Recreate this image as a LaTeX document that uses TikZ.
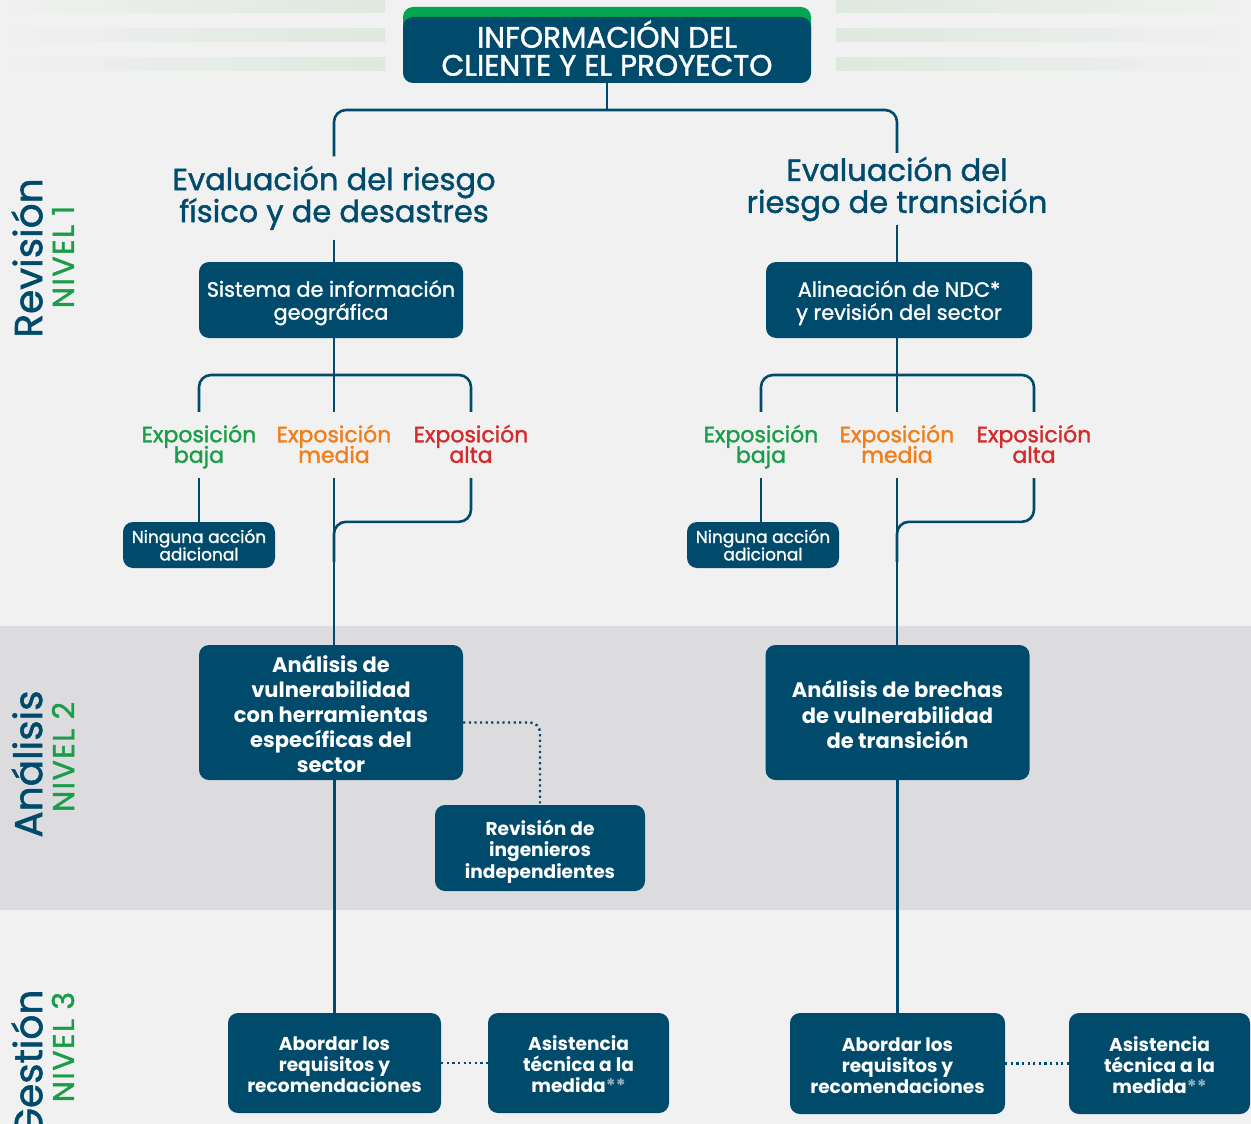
\documentclass[tikz,border=0pt]{standalone}
\usepackage{fontspec}
\setmainfont{Poppins}
\newfontfamily\med[FakeBold=1.4]{Poppins}
\newfontfamily\medw[FakeBold=1.4, LetterSpace=5]{Poppins}
\usetikzlibrary{calc}
\definecolor{dblue}{HTML}{004A6B}
\definecolor{bgc}{HTML}{F0F1F0}
\definecolor{band}{HTML}{DCDCDE}
\definecolor{deco}{HTML}{DFE8DF}
\definecolor{tgreen}{HTML}{1B9C48}
\definecolor{torange}{HTML}{F07E1A}
\definecolor{tred}{HTML}{D42A2C}
\definecolor{topgreen}{HTML}{00A650}
\definecolor{stargray}{HTML}{9AAFBE}
\newcommand{\fs}[2]{\fontsize{#1}{#2}\selectfont\lineskiplimit=-30pt }
\newcommand{\tp}{\rule{0pt}{22pt}}
\newcommand{\bt}{\rule[-7pt]{0pt}{7pt}}
\begin{document}
\begin{tikzpicture}[x=1pt,y=-1pt,
  box/.style={fill=dblue, rounded corners=10pt, text=white, align=center, inner sep=0pt},
  conn/.style={draw=dblue, line width=2.6pt},
  dots/.style={draw=dblue, line width=2.4pt, dash pattern=on 2.2pt off 3.4pt},
  expo/.style={align=center, inner sep=0pt, minimum height=66pt, font=\med\fs{22}{20.5}},
  ttl/.style={align=center, inner sep=0pt, text=dblue, font=\med\fs{30.5}{32}},
  side/.style={rotate=90, text=dblue, font=\med\fs{39}{40}},
  niv/.style={rotate=90, text=tgreen, font=\medw\fs{30}{30}}
]
\useasboundingbox (0,0) rectangle (1251,1124);
\clip (0,0) rectangle (1251,1124);
% backgrounds
\fill[bgc] (0,0) rectangle (1251,1124);
\fill[band] (0,626) rectangle (1251,910);
\foreach \y in {0,29,58}{
  \shade[left color=bgc, right color=deco] (0,\y) rectangle (385,\y+13);
  \shade[left color=deco, right color=bgc] (836,\y) rectangle (1251,\y+13);
}
% side labels
\node[side] (rev) at (27,258) {Revisión};
\node[niv] (niv1) at (63,257) {NIVEL 1};
\node[side] (ana) at (27,764) {Análisis};
\node[niv] (niv2) at (63,757) {NIVEL 2};
\node[side] (ges) at (27,1064) {Gestión};
\node[niv] (niv3) at (63,1047) {NIVEL 3};
% top box
\fill[topgreen, rounded corners=10pt] (403,7) rectangle (811,48);
\node[box, minimum width=408pt, minimum height=66pt, font=\med\fs{29.5}{28}] (top) at (607,50) {INFORMACIÓN DEL\\CLIENTE Y EL PROYECTO\rule[-4pt]{0pt}{4pt}};
% titles
\node[ttl, minimum height=83pt] (tL) at (334,198) {Evaluación del riesgo\\físico y de desastres};
\node[ttl, minimum height=72pt] (tR) at (897,189) {Evaluación del\\riesgo de transición};
% first boxes
\node[box, minimum width=264pt, minimum height=76pt, font=\med\fs{20.8}{23}] (sig) at (331,300) {\rule{0pt}{22pt}Sistema de información\\geográfica};
\node[box, minimum width=266pt, minimum height=76pt, font=\med\fs{20.8}{23}] (ndc) at (899,300) {\rule{0pt}{22pt}Alineación de NDC*\\y revisión del sector};
% exposure labels
\node[expo, text=tgreen] (eL1) at (199,445) {\tp Exposición\\\bt baja};
\node[expo, text=torange] (eL2) at (334,445) {\tp Exposición\\\bt media};
\node[expo, text=tred] (eL3) at (471,445) {\tp Exposición\\\bt alta};
\node[expo, text=tgreen] (eR1) at (761,445) {\tp Exposición\\\bt baja};
\node[expo, text=torange] (eR2) at (897,445) {\tp Exposición\\\bt media};
\node[expo, text=tred] (eR3) at (1034,445) {\tp Exposición\\\bt alta};
% ninguna
\node[box, minimum width=152pt, minimum height=46pt, font=\med\fs{17}{17.5}] (nL) at (199,545) {Ninguna acción\\adicional};
\node[box, minimum width=152pt, minimum height=46pt, font=\med\fs{17}{17.5}] (nR) at (763,545) {Ninguna acción\\adicional};
% level 2
\node[box, minimum width=264pt, minimum height=135pt, font=\bfseries\fs{21}{25}] (aL) at (331,712.5) {\rule{0pt}{20pt}Análisis de\\vulnerabilidad\\con herramientas\\específicas del\\sector};
\node[box, minimum width=264pt, minimum height=135pt, font=\bfseries\fs{21}{25.5}] (aR) at (897.5,712.5) {\rule{0pt}{22pt}Análisis de brechas\\de vulnerabilidad\\de transición};
\node[box, minimum width=210pt, minimum height=86pt, font=\bfseries\fs{18.6}{21.5}] (rv) at (540,848) {\rule{0pt}{22pt}Revisión de\\ingenieros\\independientes};
% level 3
\node[box, minimum width=213pt, minimum height=100pt, font=\bfseries\fs{18.6}{21}] (bL) at (334.5,1063) {\rule{0pt}{18pt}Abordar los\\requisitos y\\recomendaciones};
\node[box, minimum width=181pt, minimum height=100pt, font=\bfseries\fs{18.6}{21}] (sL) at (578.5,1063) {\rule{0pt}{18pt}Asistencia\\técnica a la\\medida\textcolor{stargray}{**}};
\node[box, minimum width=215pt, minimum height=101pt, font=\bfseries\fs{18.6}{21}] (bR) at (897.5,1063.5) {\rule{0pt}{18pt}Abordar los\\requisitos y\\recomendaciones};
\node[box, minimum width=181pt, minimum height=101pt, font=\bfseries\fs{18.6}{21}] (sR) at (1159.5,1063.5) {\rule{0pt}{18pt}Asistencia\\técnica a la\\medida\textcolor{stargray}{**}};
% connectors
\draw[conn, rounded corners=12pt] (tL.north) |- (top.south |- 0,110) -| (tR.north);
\draw[conn] (top.south) -- (top.south |- 0,110);
\draw[conn] (tL.south) -- (tL.south |- sig.north);
\draw[conn] (tR.south) -- (tR.south |- ndc.north);
% left bracket
\draw[conn] (eL2.south |- sig.south) -- (eL2.north);
\draw[conn, rounded corners=12pt] (eL1.north) |- (eL2.north |- 0,375) -| (eL3.north);
\draw[conn] (eL1.south) -- (nL.north);
\draw[conn] (eL2.south) -- (eL2.south |- aL.north);
\draw[conn, rounded corners=12pt] (eL3.south) |- (eL2.south |- nL.north) -- ++(0,40);
% right bracket
\draw[conn] (eR2.south |- ndc.south) -- (eR2.north);
\draw[conn, rounded corners=12pt] (eR1.north) |- (eR2.north |- 0,375) -| (eR3.north);
\draw[conn] (eR1.south) -- (eR1.south |- nR.north);
\draw[conn] (eR2.south) -- (eR2.south |- aR.north);
\draw[conn, rounded corners=12pt] (eR3.south) |- (eR2.south |- nR.north) -- ++(0,40);
% level 2 -> 3
\draw[dots, rounded corners=10pt] ([yshift=-10pt]aL.east) -| (rv.north);
\draw[conn] (bL.north |- aL.south) -- (bL.north);
\draw[conn] (bR.north |- aR.south) -- (bR.north);
\draw[dots] (bL.east) -- (sL.west);
\draw[dots] (bR.east) -- (sR.west);
\end{tikzpicture}
\end{document}
